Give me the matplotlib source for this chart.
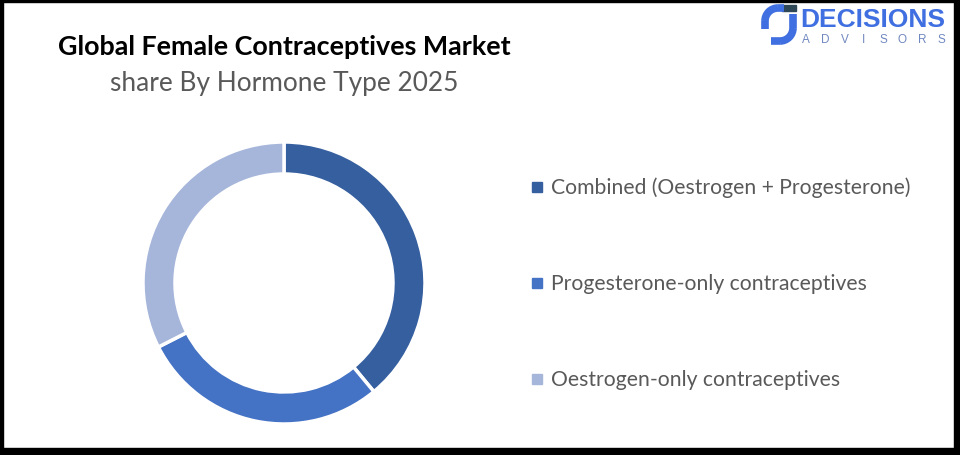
import matplotlib.pyplot as plt
from matplotlib.patches import Rectangle, Arc
import numpy as np

# data
segments = ['Combined (Oestrogen + Progesterone)', 'Progesterone-only contraceptives', 'Oestrogen-only contraceptives']
shares = [39.0, 28.5, 32.5]
colors = ['#365F9F', '#4472C4', '#A6B5DA']

title = 'Global Female Contraceptives Market'
subtitle = 'share By Hormone Type 2025'

W, H = 960, 456
fig = plt.figure(figsize=(W / 100, H / 100), dpi=100)
fig.patch.set_facecolor('white')

def fx(px):
    return px / W

def fy(py):
    return 1 - py / H

# donut
cx, cy, r = 284, 284, 141
ax = fig.add_axes([fx(cx - 150), fy(cy + 150), fx(300), 300 / H])
ax.pie(shares, colors=colors, startangle=90, counterclock=False, radius=r,
       wedgeprops=dict(width=r * 0.227, edgecolor='white', linewidth=2.5))
ax.set_xlim(-150, 150)
ax.set_ylim(-150, 150)
ax.set_aspect('equal')
ax.axis('off')

# titles
fig.text(fx(284), fy(47), title, ha='center', va='center', fontsize=19.4,
         fontweight='bold', family='Lato', color='black')
fig.text(fx(284), fy(84), subtitle, ha='center', va='center', fontsize=18.9,
         family='Lato', color='#595959')

# legend
rows = [188, 284, 380]
for lab, col, y in zip(segments, colors, rows):
    fig.patches.append(Rectangle((fx(532), fy(y + 5)), fx(10), 10 / H, color=col,
                                 transform=fig.transFigure, figure=fig))
    fig.text(fx(551), fy(y), lab, ha='left', va='center', fontsize=15.2,
             family='Lato', color='#595959')

# logo
lax = fig.add_axes([0, 0, 1, 1], facecolor='none')
lax.set_xlim(0, W)
lax.set_ylim(H, 0)
lax.axis('off')
blue = '#3F6FE0'
lw = 5.5
lax.add_patch(Arc((778, 22), 26, 26, theta1=180, theta2=270, color=blue, lw=lw))
lax.plot([778, 784], [9, 9], color=blue, lw=lw, solid_capstyle='butt')
lax.plot([765, 765], [22, 30], color=blue, lw=lw, solid_capstyle='butt')
lax.add_patch(Arc((780, 29), 26, 26, theta1=0, theta2=90, color=blue, lw=lw))
lax.plot([780, 771], [42, 42], color=blue, lw=lw, solid_capstyle='butt')
lax.plot([793, 793], [29, 15], color=blue, lw=lw, solid_capstyle='butt')
lax.add_patch(Rectangle((782, 6), 14, 6, color='#2E4756'))
lax.text(800, 20, 'DECISIONS', ha='left', va='center', fontsize=19,
         fontweight='bold', family='Liberation Sans', color=blue)
for i, ch in enumerate('ADVISORS'):
    lax.text(806 + i * 19.3, 40, ch, ha='center', va='center', fontsize=8.5,
             family='Liberation Sans', color='#7088C0')

# frame
k = 'black'
lax.add_patch(Rectangle((0, 0), W, 3, color=k))
lax.add_patch(Rectangle((0, 0), 3, H, color=k))
lax.add_patch(Rectangle((954, 0), 6, H, color=k))
lax.add_patch(Rectangle((0, 449), W, 7, color=k))

fig.savefig('out.png', dpi=100)
